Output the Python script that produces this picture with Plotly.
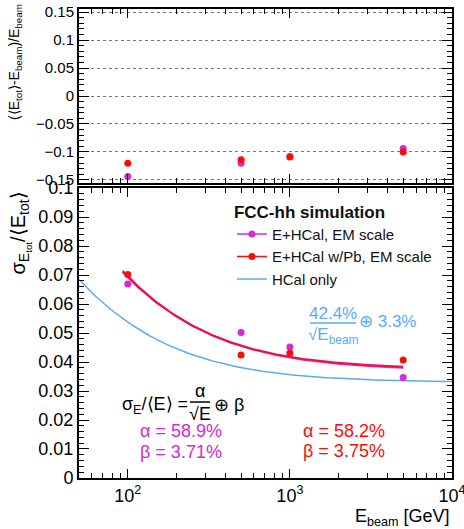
import numpy as np
import plotly.graph_objects as go

# Beam energies (GeV)
E_beam = [100, 500, 1000, 5000]

# Linearity: (<E_tot> - E_beam) / E_beam
lin_ehcal = [-0.144, -0.120, -0.108, -0.094]
lin_ehcal_pb = [-0.120, -0.114, -0.109, -0.100]

# Energy resolution: sigma_E / <E_tot>
res_ehcal = [0.0669, 0.0502, 0.0452, 0.0347]
res_ehcal_pb = [0.0702, 0.0424, 0.0431, 0.0407]

# Fit parameters (stochastic term alpha, constant term beta)
fit_ehcal = (0.589, 0.0371)
fit_ehcal_pb = (0.582, 0.0375)
fit_hcal = (0.424, 0.033)
fit_range_ecal = (93, 5000)
fit_range_hcal = (50, 10000)

MAGENTA = "#d42ad4"
RED = "#ff0a0a"
RED_LINE = "#f0103e"
BLUE = "#5aabf5"
FONT = "Liberation Sans"


def resolution(e, a, b):
    return np.sqrt((a / np.sqrt(e)) ** 2 + b ** 2)


def fit_curve(rng, a, b):
    e = np.logspace(np.log10(rng[0]), np.log10(rng[1]), 200)
    return e, resolution(e, a, b)


fig = go.Figure()

# --- resolution panel ---
ex, ey = fit_curve(fit_range_hcal, *fit_hcal)
fig.add_trace(go.Scatter(x=ex, y=ey, mode="lines", line=dict(color=BLUE, width=1.5),
                         showlegend=False, xaxis="x", yaxis="y"))
ex, ey = fit_curve(fit_range_ecal, *fit_ehcal)
fig.add_trace(go.Scatter(x=ex, y=ey, mode="lines", line=dict(color=MAGENTA, width=2),
                         showlegend=False, xaxis="x", yaxis="y"))
ex, ey = fit_curve(fit_range_ecal, *fit_ehcal_pb)
fig.add_trace(go.Scatter(x=ex, y=ey, mode="lines", line=dict(color=RED_LINE, width=2),
                         showlegend=False, xaxis="x", yaxis="y"))
fig.add_trace(go.Scatter(x=E_beam, y=res_ehcal, mode="markers",
                         marker=dict(color=MAGENTA, size=7), showlegend=False,
                         xaxis="x", yaxis="y"))
fig.add_trace(go.Scatter(x=E_beam, y=res_ehcal_pb, mode="markers",
                         marker=dict(color=RED, size=7), showlegend=False,
                         xaxis="x", yaxis="y"))

# --- linearity panel ---
fig.add_trace(go.Scatter(x=E_beam, y=lin_ehcal, mode="markers",
                         marker=dict(color=MAGENTA, size=7), showlegend=False,
                         xaxis="x2", yaxis="y2"))
fig.add_trace(go.Scatter(x=E_beam, y=lin_ehcal_pb, mode="markers",
                         marker=dict(color=RED, size=7), showlegend=False,
                         xaxis="x2", yaxis="y2"))

# legend entries
fig.add_trace(go.Scatter(x=[None], y=[None], mode="lines+markers", name="E+HCal, EM scale",
                         line=dict(color=MAGENTA, width=1.5), marker=dict(color=MAGENTA, size=7),
                         xaxis="x", yaxis="y"))
fig.add_trace(go.Scatter(x=[None], y=[None], mode="lines+markers", name="E+HCal w/Pb, EM scale",
                         line=dict(color=RED, width=1.5), marker=dict(color=RED, size=7),
                         xaxis="x", yaxis="y"))
fig.add_trace(go.Scatter(x=[None], y=[None], mode="lines", name="HCal only",
                         line=dict(color=BLUE, width=1.5), xaxis="x", yaxis="y"))

major_x = [100, 1000, 10000]
minor_x = [m * 10 ** d for d in (1, 2, 3) for m in range(2, 10) if 50 <= m * 10 ** d <= 10000]
xrange_log = [np.log10(50), 4.0002]

common_x = dict(type="log", range=xrange_log, showline=True, linecolor="black", linewidth=2,
                mirror="allticks", ticks="inside", ticklen=9, tickwidth=1.2, tickcolor="black",
                tickmode="array", tickvals=major_x, automargin=False,
                minor=dict(tickmode="array", tickvals=minor_x, ticks="inside", ticklen=5,
                           tickwidth=1, tickcolor="black"),
                showgrid=False, zeroline=False)

fig.update_layout(
    width=464, height=529,
    margin=dict(l=79, r=12, t=9, b=51),
    paper_bgcolor="white", plot_bgcolor="white",
    font=dict(family=FONT, color="black"),
    xaxis=dict(**common_x, anchor="y", domain=[0, 1],
               ticktext=["10<sup>2</sup>", "10<sup>3</sup>", "10<sup>4</sup>"],
               tickfont=dict(size=18, family=FONT), ticklabeloverflow="allow"),
    xaxis2=dict(**common_x, anchor="y2", domain=[0, 1], matches="x", showticklabels=False),
    yaxis=dict(domain=[0, 0.6183], range=[0, 0.1], showline=True, linecolor="black",
               linewidth=2, mirror="allticks", ticks="inside", ticklen=10, tickwidth=1.2,
               tickcolor="black", tickmode="array", automargin=False,
               tickvals=[0, 0.01, 0.02, 0.03, 0.04, 0.05, 0.06, 0.07, 0.08, 0.09, 0.1],
               ticktext=["0", "0.01", "0.02", "0.03", "0.04", "0.05", "0.06", "0.07", "0.08",
                         "0.09", "0.1"],
               minor=dict(dtick=0.002, ticks="inside", ticklen=5, tickwidth=1,
                          tickcolor="black"),
               tickfont=dict(size=18, family=FONT), showgrid=False, zeroline=False),
    yaxis2=dict(domain=[0.629, 1], range=[-0.1554, 0.1554], showline=True, linecolor="black",
                linewidth=2, mirror="allticks", ticks="inside", ticklen=10, tickwidth=1.2,
                tickcolor="black", tickmode="array", automargin=False,
                tickvals=[-0.15, -0.1, -0.05, 0, 0.05, 0.1, 0.15],
                ticktext=["\u22120.15", "\u22120.1", "\u22120.05", "0", "0.05", "0.1", "0.15"],
                minor=dict(dtick=0.01, ticks="inside", ticklen=5, tickwidth=1,
                           tickcolor="black"),
                tickfont=dict(size=15, family=FONT), showgrid=True, gridcolor="#777",
                griddash="dot", gridwidth=1, zeroline=False),
    legend=dict(x=0.41, y=0.602, xanchor="left", yanchor="top",
                bgcolor="rgba(0,0,0,0)", font=dict(size=15, family=FONT, color="#111"),
                title=dict(text="<b>FCC-hh simulation</b>", font=dict(size=17, family=FONT)),
                tracegroupgap=0, itemwidth=30),
)


def px(xpix):
    return (xpix - 79) / 373


def py(ypix):
    return (478 - ypix) / 469


def label(text, xpix, ypix, size, color="black", xanchor="center", yanchor="middle", **kw):
    return dict(text=text, x=px(xpix), y=py(ypix), xref="paper", yref="paper",
                xanchor=xanchor, yanchor=yanchor, showarrow=False,
                font=dict(size=size, color=color, family=FONT), **kw)


ann = []
# axis titles
ann.append(label("(\u27e8E<sub>tot</sub>\u27e9-E<sub>beam</sub>)/E<sub>beam</sub>",
                 15, 2, 14, yanchor="top", textangle=-90))
ann.append(label("\u03c3<sub>E<sub>tot</sub></sub>/\u27e8E<sub>tot</sub>\u27e9",
                 20, 190, 20, yanchor="top", textangle=-90))
ann.append(label("E<sub>beam</sub> [GeV]", 452, 517, 18, xanchor="right"))

# HCal-only fit formula
ann.append(label("42.4%", 333, 313, 17, BLUE))
ann.append(label("\u221aE<sub>beam</sub>", 333, 336, 17, BLUE))
ann.append(label("\u2295 3.3%", 357, 321, 17, BLUE, xanchor="left"))

# resolution parameterisation
ann.append(label("\u03c3<sub>E</sub>/\u27e8E\u27e9 =", 190, 405, 18, xanchor="right"))
ann.append(label("\u03b1", 200, 391, 18))
ann.append(label("\u221aE", 200, 414, 18))
ann.append(label("\u2295 \u03b2", 212, 405, 18, xanchor="left"))

ann.append(label(f"\u03b1 = {fit_ehcal[0] * 100:.1f}%", 181, 431, 18, MAGENTA))
ann.append(label(f"\u03b2 = {fit_ehcal[1] * 100:.2f}%", 181, 452, 18, MAGENTA))
ann.append(label(f"\u03b1 = {fit_ehcal_pb[0] * 100:.1f}%", 344, 431, 18, RED))
ann.append(label(f"\u03b2 = {fit_ehcal_pb[1] * 100:.2f}%", 344, 451, 18, RED))
fig.update_layout(annotations=ann)

# fraction bars
fig.add_shape(type="line", xref="paper", yref="paper", x0=px(310), x1=px(356),
              y0=py(323), y1=py(323), line=dict(color=BLUE, width=1.5))
fig.add_shape(type="line", xref="paper", yref="paper", x0=px(190), x1=px(210),
              y0=py(402), y1=py(402), line=dict(color="black", width=1.5))

fig.write_html("out.html")
